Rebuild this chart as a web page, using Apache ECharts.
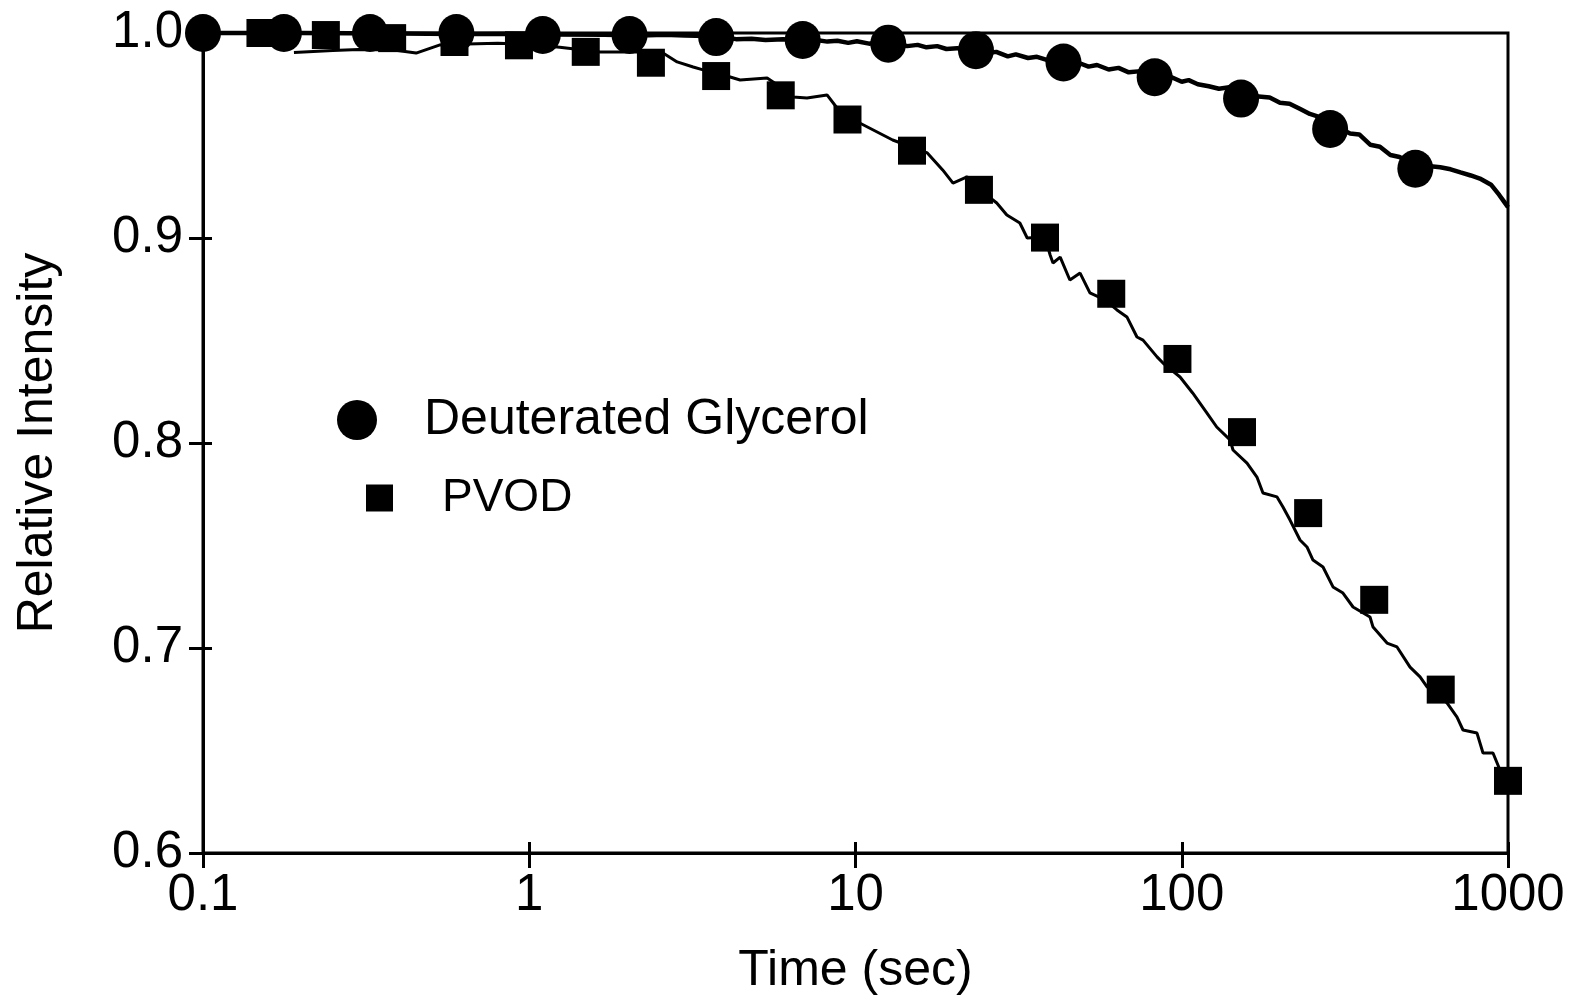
<!DOCTYPE html>
<html>
<head>
<meta charset="utf-8">
<script src="https://cdn.jsdelivr.net/npm/echarts@6/dist/echarts.min.js"></script>
<style>
html,body{margin:0;padding:0;background:#fff;}
#chart{width:1581px;height:1001px;}
</style>
</head>
<body>
<div id="chart"></div>
<script>
// ---- Data ----
const glycerolMarkTime  = [0.1, 0.177, 0.325, 0.598, 1.10, 2.03, 3.74, 6.89, 12.6, 23.4, 43.4, 82.6, 152, 285, 520];
const glycerolMarkValue = [1.0, 1.0, 1.0, 1.0, 0.999, 0.999, 0.998, 0.9966, 0.9948, 0.9916, 0.9856, 0.9784, 0.968, 0.9532, 0.9338];

const pvodMarkTime  = [0.15, 0.238, 0.380, 0.59, 0.93, 1.49, 2.36, 3.74, 5.9, 9.45, 14.9, 23.9, 38.1, 60.8, 97, 153, 244, 389, 622, 1000];
const pvodMarkValue = [1.0, 0.999, 0.9975, 0.9956, 0.994, 0.9908, 0.9855, 0.979, 0.9696, 0.9578, 0.9426, 0.9235, 0.9002, 0.8728, 0.841, 0.8053, 0.7658, 0.7235, 0.6797, 0.6352];

const glycerolTraceTime = [0.1, 0.2, 0.4, 0.6, 0.85, 1.2, 1.7, 2.2, 2.6, 3.0, 3.5, 4.0, 4.3, 4.8, 5.3, 6.0, 6.6, 7.3, 8.2, 8.8, 9.5, 10.1, 11.0, 11.6, 12.5, 13.5, 14.4, 15.5, 16.5, 17.8, 19, 20.5, 22, 23.5, 25.4, 27, 29.3, 31, 33.8, 36, 39, 42, 44.9, 48, 51.8, 55, 59.7, 64, 68.8, 75, 85, 92, 100, 105, 112, 121, 130, 140, 150, 161, 172, 186, 200, 214, 230, 247, 265, 285, 305, 328, 350, 378, 405, 436, 465, 502, 540, 579, 620, 667, 715, 769, 820, 887, 940, 970, 1000];
const glycerolTraceValue = [1.0, 1.0, 0.9998, 0.9995, 0.9996, 0.9993, 0.9992, 0.9988, 0.9992, 0.9988, 0.9985, 0.9978, 0.997, 0.9972, 0.9966, 0.997, 0.9966, 0.997, 0.9958, 0.9962, 0.9952, 0.996, 0.9948, 0.9954, 0.9944, 0.9948, 0.9936, 0.9942, 0.993, 0.9936, 0.9922, 0.9926, 0.9912, 0.9908, 0.9902, 0.9908, 0.9886, 0.9896, 0.9878, 0.9884, 0.9866, 0.9862, 0.985, 0.9856, 0.9836, 0.9844, 0.9822, 0.983, 0.9808, 0.9814, 0.978, 0.9788, 0.9762, 0.977, 0.975, 0.974, 0.9728, 0.9735, 0.971, 0.9705, 0.969, 0.9685, 0.966, 0.9655, 0.963, 0.9605, 0.959, 0.955, 0.9535, 0.951, 0.9505, 0.9455, 0.9445, 0.9405, 0.9395, 0.9365, 0.936, 0.935, 0.9345, 0.9335, 0.932, 0.9305, 0.929, 0.926, 0.921, 0.918, 0.915];

const pvodTraceTime = [0.19, 0.25, 0.30, 0.38, 0.45, 0.53, 0.6, 0.8, 1.0, 1.24, 1.65, 2.14, 2.57, 2.84, 3.18, 3.41, 3.76, 4.43, 5.36, 5.59, 6.43, 7.10, 8.18, 8.78, 10.3, 13.0, 16.6, 18.5, 19.9, 21.97, 24.1, 27.1, 29.1, 31.9, 33.6, 38.1, 39.5, 40.3, 42.4, 45.4, 48.8, 52.3, 58.2, 63.3, 67.9, 72.9, 76.1, 84.0, 87.6, 98.8, 108, 119.5, 128, 140.6, 143.6, 158.5, 170, 177.4, 195.9, 204.3, 214.7, 230.4, 242, 252.5, 271, 290.8, 312, 335, 377.6, 385.8, 425.8, 456.9, 500.9, 537.6, 564.8, 650.1, 697.8, 727.9, 803.5, 838.3, 899.5, 945, 1000];
const pvodTraceValue = [0.9905, 0.9915, 0.992, 0.9918, 0.9902, 0.9941, 0.9945, 0.995, 0.9945, 0.993, 0.9907, 0.9907, 0.9902, 0.9859, 0.9834, 0.982, 0.9805, 0.9771, 0.978, 0.9761, 0.9688, 0.9683, 0.9698, 0.9634, 0.9561, 0.9478, 0.9415, 0.9332, 0.9268, 0.9298, 0.9234, 0.9171, 0.9112, 0.9073, 0.9, 0.9005, 0.8917, 0.8878, 0.8907, 0.8795, 0.8829, 0.8732, 0.8698, 0.8649, 0.8615, 0.8517, 0.8502, 0.842, 0.839, 0.8322, 0.8244, 0.8146, 0.8078, 0.8015, 0.7966, 0.7902, 0.7834, 0.7756, 0.7737, 0.7688, 0.7624, 0.7527, 0.7493, 0.7429, 0.7395, 0.7298, 0.7268, 0.72, 0.7151, 0.7102, 0.7024, 0.7005, 0.6907, 0.6859, 0.681, 0.6732, 0.6663, 0.66, 0.6585, 0.6488, 0.6488, 0.6405, 0.6366];

const xTicks = [0.1, 1, 10, 100, 1000];
const yTicks = [0.6, 0.7, 0.8, 0.9, 1.0];
const seriesNames = ['Deuterated Glycerol', 'PVOD'];
const xTitle = 'Time (sec)';
const yTitle = 'Relative Intensity';

// ---- Build chart ----
const zip = (a, b) => a.map((v, i) => [v, b[i]]);
const FONT = '"Liberation Sans", Arial, Helvetica, sans-serif';
const INK = '#000';
const LW = 3;

const G = {left: 203, right: 73, top: 33, bottom: 148};
const xMin = xTicks[0], xMax = xTicks[xTicks.length - 1];
const yMin = yTicks[0], yMax = yTicks[yTicks.length - 1];

const chart = echarts.init(document.getElementById('chart'), null, {renderer: 'canvas'});

// labels on the overlay axes are kept (ticks follow labels) but made invisible
const ghostLabel = {show: true, color: 'rgba(0,0,0,0)', fontFamily: FONT, fontSize: 51};

const xAxisFor = (gridIndex, inside, len, extra) => Object.assign({
  type: 'log', logBase: 10, min: xMin, max: xMax, gridIndex: gridIndex, position: 'bottom',
  splitLine: {show: false}, minorTick: {show: false},
  axisLine: {show: true, onZero: false, lineStyle: {color: INK, width: LW}},
  axisTick: {show: true, inside: inside, length: len, interval: 0, lineStyle: {color: INK, width: LW}},
  axisLabel: Object.assign({margin: 17, formatter: v => String(v)}, ghostLabel)
}, extra || {});
const yAxisFor = (gridIndex, inside, len, extra) => Object.assign({
  type: 'value', min: yMin, max: yMax, interval: 0.1, gridIndex: gridIndex, position: 'left',
  splitLine: {show: false},
  axisLine: {show: true, onZero: false, lineStyle: {color: INK, width: LW}},
  axisTick: {show: true, inside: inside, length: len, interval: 0, lineStyle: {color: INK, width: LW}},
  axisLabel: Object.assign({margin: 20, formatter: v => v.toFixed(1)}, ghostLabel)
}, extra || {});

const option = {
  backgroundColor: '#fff',
  animation: false,
  grid: [
    Object.assign({show: true, borderColor: INK, borderWidth: LW, backgroundColor: 'transparent'}, G),
    Object.assign({show: false}, G)
  ],
  legend: [
    {
      data: [{name: seriesNames[0], icon: 'circle'}],
      left: 337, top: 395, padding: 0, itemWidth: 40, itemHeight: 40,
      selectedMode: false,
      itemStyle: {color: INK, opacity: 1},
      textStyle: {fontFamily: FONT, fontSize: 50, color: INK, padding: [0, 0, 0, 42]}
    },
    {
      data: [{name: seriesNames[1], icon: 'rect'}],
      left: 366, top: 475, padding: 0, itemWidth: 27, itemHeight: 27,
      selectedMode: false,
      itemStyle: {color: INK, opacity: 1},
      textStyle: {fontFamily: FONT, fontSize: 46, color: INK, padding: [0, 0, 0, 44]}
    }
  ],
  xAxis: [
    xAxisFor(0, false, 15, {
      axisLabel: {show: true, color: INK, fontFamily: FONT, fontSize: 51, margin: 17,
        formatter: v => String(v)},
      name: xTitle, nameLocation: 'middle', nameGap: 93,
      nameTextStyle: {fontFamily: FONT, fontSize: 50, color: INK}
    }),
    xAxisFor(1, true, 11)
  ],
  yAxis: [
    yAxisFor(0, false, 14, {
      axisLabel: {show: true, color: INK, fontFamily: FONT, fontSize: 51, margin: 20,
        formatter: v => v.toFixed(1)},
      name: yTitle, nameLocation: 'middle', nameGap: 140, nameRotate: 90,
      nameTextStyle: {fontFamily: FONT, fontSize: 50, color: INK}
    }),
    yAxisFor(1, true, 9)
  ],
  series: [
    {
      name: 'glycerolTrace', type: 'line', xAxisIndex: 0, yAxisIndex: 0,
      data: zip(glycerolTraceTime, glycerolTraceValue), showSymbol: false, symbol: 'none',
      lineStyle: {color: INK, width: 4.5}, clip: false, z: 2
    },
    {
      // same scales as grid 0 (identical geometry), drawn on the overlay grid
      name: 'pvodTrace', type: 'line', xAxisIndex: 1, yAxisIndex: 1,
      data: zip(pvodTraceTime, pvodTraceValue), showSymbol: false, symbol: 'none',
      lineStyle: {color: INK, width: 3}, clip: false, z: 2
    },
    {
      name: seriesNames[0], type: 'scatter', xAxisIndex: 0, yAxisIndex: 0,
      data: zip(glycerolMarkTime, glycerolMarkValue), symbol: 'circle', symbolSize: [36, 38],
      itemStyle: {color: INK, opacity: 1}, clip: false, z: 5
    },
    {
      name: seriesNames[1], type: 'scatter', xAxisIndex: 0, yAxisIndex: 0,
      data: zip(pvodMarkTime, pvodMarkValue), symbol: 'rect', symbolSize: 28,
      itemStyle: {color: INK, opacity: 1}, clip: false, z: 5
    }
  ]
};
chart.setOption(option);
</script>
</body>
</html>
